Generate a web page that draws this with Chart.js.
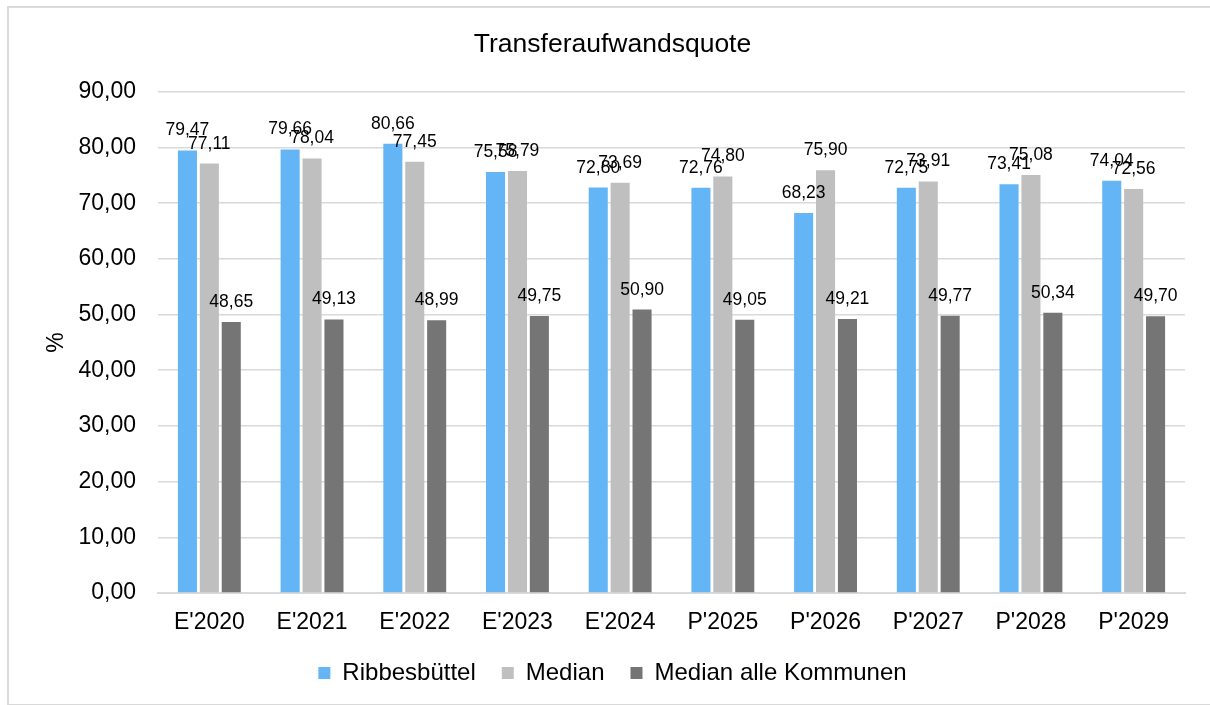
<!DOCTYPE html>
<html>
<head>
<meta charset="utf-8">
<script src="https://cdn.jsdelivr.net/npm/chart.js@4.4.1/dist/chart.umd.min.js"></script>
<style>
    html, body { margin: 0; padding: 0; background: #fff; overflow: hidden; }
    #frame { position: absolute; left: 7px; top: 6px; width: 1300px; height: 696px; border: 2px solid #d9d9d9; }
    #wrap { position: absolute; left: 0; top: 0; width: 1210px; height: 705px; }
</style>
</head>
<body>
<div id="frame"></div>
<div id="wrap"><canvas id="chart" width="1210" height="705"></canvas></div>
<script>
const categories = ["E'2020", "E'2021", "E'2022", "E'2023", "E'2024", "P'2025", "P'2026", "P'2027", "P'2028", "P'2029"];
const ribbesbuettel = [79.47, 79.66, 80.66, 75.58, 72.80, 72.76, 68.23, 72.75, 73.41, 74.04];
const median = [77.11, 78.04, 77.45, 75.79, 73.69, 74.80, 75.90, 73.91, 75.08, 72.56];
const medianAlle = [48.65, 49.13, 48.99, 49.75, 50.90, 49.05, 49.21, 49.77, 50.34, 49.70];
const yMin = 0, yMax = 90, yStep = 10;

const FONT = "'Liberation Sans', Arial, sans-serif";
const fmt = v => v.toFixed(2).replace('.', ',');

// value labels above each bar, german decimal comma
const valueLabels = {
    id: 'valueLabels',
    afterDatasetsDraw(chart) {
        const ctx = chart.ctx;
        ctx.save();
        ctx.font = '17.5px ' + FONT;
        ctx.fillStyle = '#000';
        ctx.textAlign = 'center';
        ctx.textBaseline = 'alphabetic';
        chart.data.datasets.forEach((ds, i) => {
            chart.getDatasetMeta(i).data.forEach((bar, j) => {
                ctx.fillText(fmt(ds.data[j]), bar.x, bar.y - 15);
            });
        });
        ctx.restore();
    }
};

new Chart(document.getElementById('chart').getContext('2d'), {
    type: 'bar',
    data: {
        labels: categories,
        datasets: [
            { label: 'Ribbesbüttel', data: ribbesbuettel, backgroundColor: '#64b5f6' },
            { label: 'Median', data: median, backgroundColor: '#bfbfbf' },
            { label: 'Median alle Kommunen', data: medianAlle, backgroundColor: '#757575' }
        ]
    },
    options: {
        responsive: false,
        animation: false,
        datasets: { bar: { categoryPercentage: 0.64, barPercentage: 0.87 } },
        layout: { padding: { left: 40, right: 25, top: 0, bottom: 10 } },
        plugins: {
            title: {
                display: true,
                text: 'Transferaufwandsquote',
                color: '#000',
                font: { family: FONT, size: 26.5, weight: 'normal' },
                padding: { top: 29, bottom: 31 }
            },
            legend: {
                position: 'bottom',
                labels: {
                    color: '#000',
                    font: { family: FONT, size: 24 },
                    boxWidth: 12,
                    boxHeight: 12,
                    padding: 26
                }
            },
            tooltip: { enabled: false }
        },
        scales: {
            x: {
                afterFit: scale => { scale.height = 42; },
                grid: { display: false },
                border: { display: true, color: '#d9d9d9', width: 2 },
                ticks: { color: '#000', font: { family: FONT, size: 23 }, padding: 8 }
            },
            y: {
                min: yMin,
                max: yMax,
                afterFit: scale => { scale.width = 118; },
                grid: { color: '#d9d9d9', lineWidth: 1.5, drawTicks: false },
                border: { display: false },
                ticks: {
                    stepSize: yStep,
                    color: '#000',
                    font: { family: FONT, size: 23 },
                    padding: 22,
                    callback: v => fmt(v)
                },
                title: {
                    display: true,
                    text: '%',
                    color: '#000',
                    font: { family: FONT, size: 23 },
                    padding: { top: 3, bottom: 0 }
                }
            }
        }
    },
    plugins: [valueLabels]
});
</script>
</body>
</html>
